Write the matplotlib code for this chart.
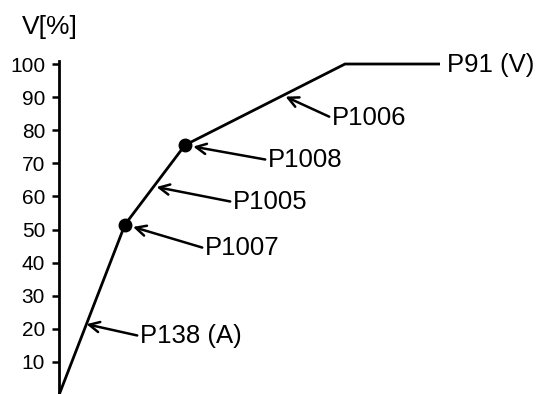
import numpy as np
import matplotlib
matplotlib.use("Agg")
import matplotlib.pyplot as plt

plt.rcParams['font.family'] = ['Liberation Sans', 'DejaVu Sans']

# Curve (x arbitrary units, y in %)
line_x = [0, 66, 126, 286, 381]
line_y = [0, 51.5, 75.5, 100, 100]

# Marked points (dots)
dot_x = [66, 126]
dot_y = [51.5, 75.5]

# Annotations: label, target y on curve, text position (x, y), shrink at target
labels = ['P138 (A)', 'P1007', 'P1005', 'P1008', 'P1006']
target_y = [21.4, 51.5, 63.0, 75.5, 90.5]
text_x = [81, 146, 174, 209, 273]
text_y = [17.8, 44.3, 58.3, 71.0, 83.7]
shrink = [0, 6, 2, 6, 2]

end_label = 'P91 (V)'
end_text = (388, 99.6)

yticks = [10, 20, 30, 40, 50, 60, 70, 80, 90, 100]

fig = plt.figure(figsize=(5.37, 3.94), dpi=100)
ax = fig.add_axes([59/537, -1/394, 478/537, 334.3/394])
ax.set_xlim(0, 478)
ax.set_ylim(0, 101)

ax.plot(line_x, line_y, color='black', lw=2.0, clip_on=False, solid_capstyle='butt')
ax.plot(dot_x, dot_y, 'o', color='black', ms=9, clip_on=False)

tx = np.interp(target_y, line_y[:4], line_x[:4])
for lab, x, y, txx, tyy, s in zip(labels, tx, target_y, text_x, text_y, shrink):
    ax.annotate(lab, xy=(x, y), xytext=(txx, tyy), fontsize=18.5,
                ha='left', va='center', annotation_clip=False,
                arrowprops=dict(arrowstyle='->', lw=1.8, color='black',
                                shrinkA=0, shrinkB=s, relpos=(0, 0.5)))

ax.text(end_text[0], end_text[1], end_label, fontsize=18.5, ha='left', va='center')

for side in ['top', 'right', 'bottom']:
    ax.spines[side].set_visible(False)
ax.spines['left'].set_linewidth(2.0)
ax.set_xticks([])
ax.set_yticks(yticks)
ax.set_yticklabels([str(v) for v in yticks])
ax.tick_params(axis='y', length=5, width=1.8, labelsize=15, pad=5)

fig.text(22/537, 1 - 27/394, 'V[%]', fontsize=19, ha='left', va='center')

fig.savefig('out.png', dpi=100)
